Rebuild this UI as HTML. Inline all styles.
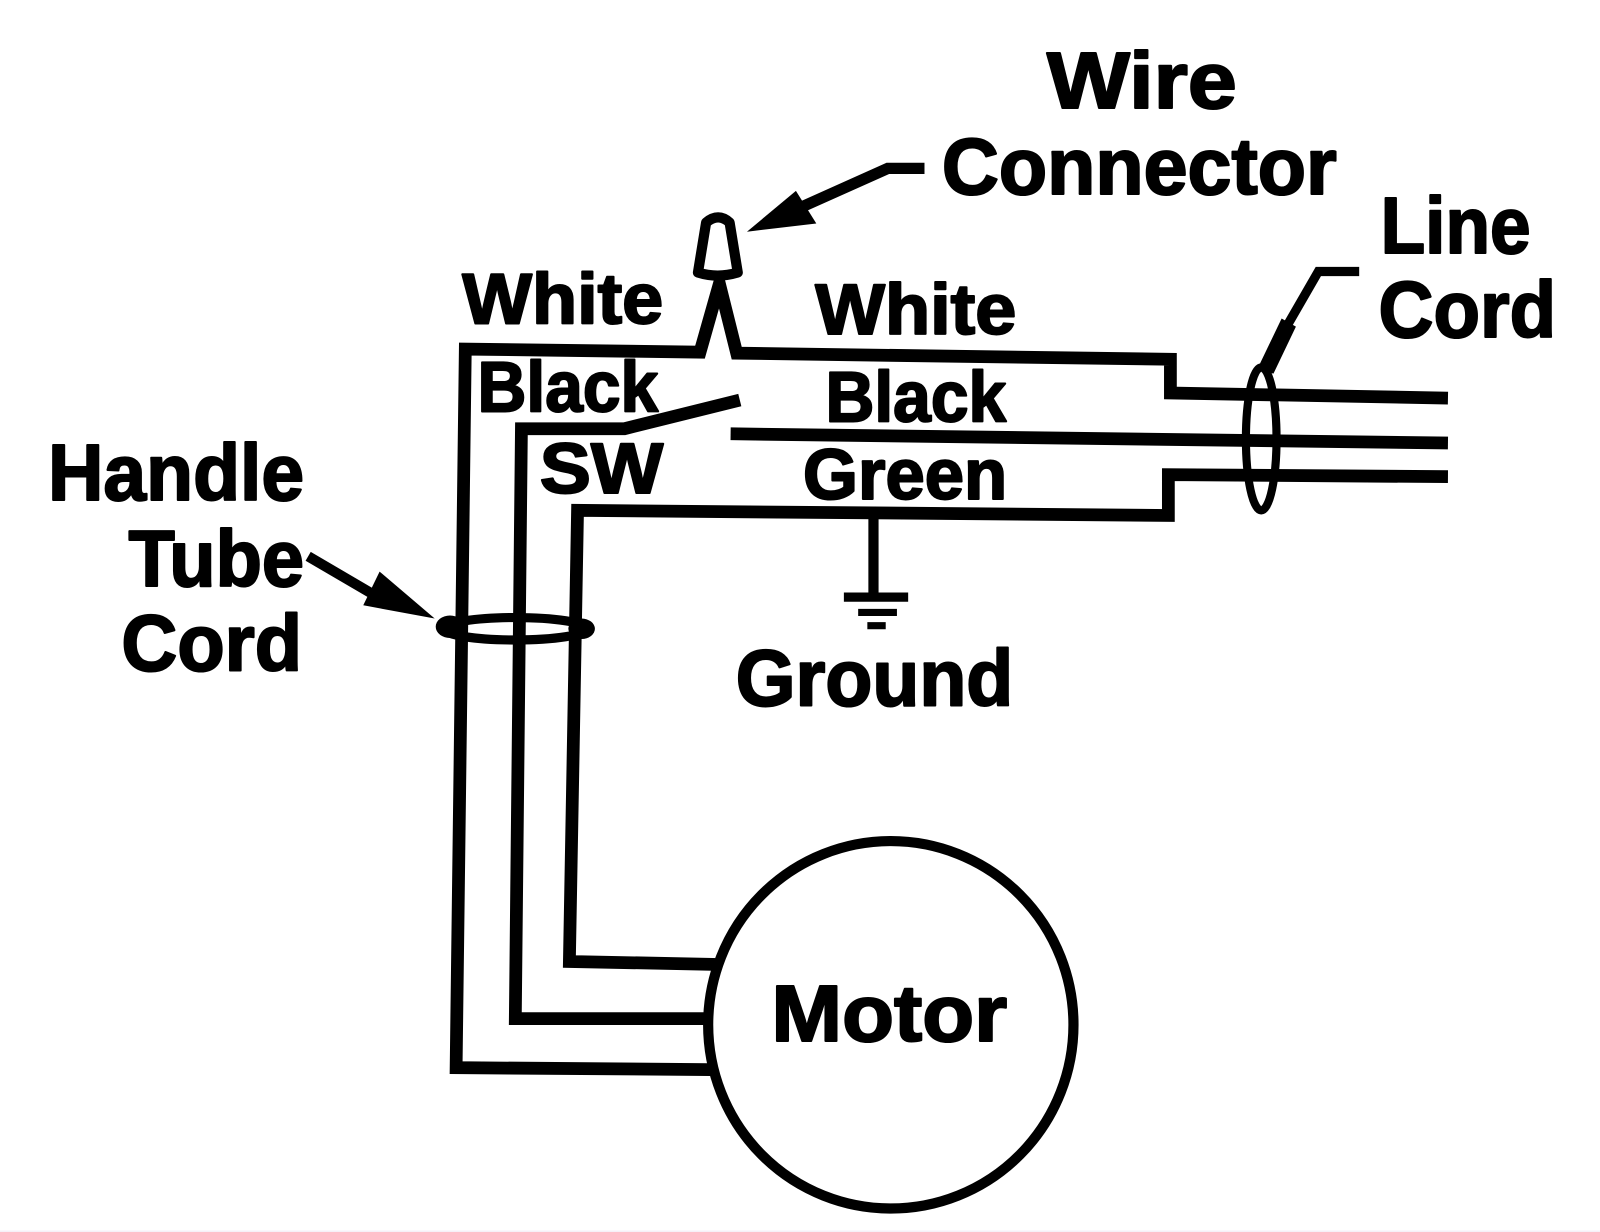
<!DOCTYPE html>
<html>
<head>
<meta charset="utf-8">
<style>
html,body{margin:0;padding:0;background:#fff;width:1600px;height:1232px;overflow:hidden}
svg{display:block}
text{font-family:"Liberation Sans",sans-serif;font-weight:bold;fill:#000;stroke:#000;stroke-width:2;stroke-linejoin:round}
.w{fill:none;stroke:#000;stroke-width:12.5;stroke-linejoin:miter;stroke-linecap:butt}
</style>
</head>
<body>
<svg width="1600" height="1232" viewBox="0 0 1568 1207" preserveAspectRatio="none" xmlns="http://www.w3.org/2000/svg">
<rect width="1568" height="1207" fill="#fff"/>
<rect y="1205.5" width="1568" height="1.5" fill="#f6f0f8"/>

<!-- wires -->
<polyline class="w" points="710,1048 447,1046 456,342 686,345 705,278 722,346 1147,352 1147,385 1419,390"/>
<polyline class="w" points="710,998 505,998 511,420 612,420 725,392"/>
<polyline class="w" points="716,425 1419,434"/>
<polyline class="w" points="710,945 558,942 566,500 1145,505 1145,465 1419,467"/>

<!-- ground -->
<line x1="856" y1="498" x2="856" y2="582" stroke="#000" stroke-width="10"/>
<line x1="827" y1="585" x2="890" y2="585" stroke="#000" stroke-width="9"/>
<line x1="841" y1="600" x2="879" y2="600" stroke="#000" stroke-width="7"/>
<line x1="850" y1="613" x2="868" y2="613" stroke="#000" stroke-width="7"/>

<!-- motor -->
<ellipse cx="873" cy="1004" rx="179" ry="180" fill="#fff" stroke="#000" stroke-width="10"/>

<!-- wire connector -->
<path d="M692,218 Q704,208 715,218 L723,267 Q703,273 684,267 Z" fill="#fff" stroke="#000" stroke-width="10" stroke-linejoin="round"/>

<!-- connector arrow -->
<polyline points="906,165 870,165 785,203" fill="none" stroke="#000" stroke-width="11"/>
<polygon points="732,227 780,187 800,219" fill="#000"/>

<!-- line cord -->
<ellipse cx="1236" cy="430" rx="15" ry="70" fill="none" stroke="#000" stroke-width="8"/>
<polyline points="1332,266 1292,266 1262,318" fill="none" stroke="#000" stroke-width="9"/>
<polygon points="1232,362 1256,312 1270,320 1248,366" fill="#000"/>

<!-- handle tube cord -->
<ellipse cx="505" cy="616" rx="70" ry="11" fill="none" stroke="#000" stroke-width="9"/>
<ellipse cx="441" cy="614" rx="14" ry="11" fill="#000"/>
<ellipse cx="570" cy="616" rx="13" ry="10" fill="#000"/>

<!-- handle arrow -->
<line x1="302" y1="545" x2="372" y2="586" stroke="#000" stroke-width="10"/>
<polygon points="426,606 372,560 356,593" fill="#000"/>

<!-- labels -->
<text x="1026" y="106" font-size="78" textLength="186" lengthAdjust="spacingAndGlyphs">Wire</text>
<text x="923" y="190" font-size="78" textLength="387" lengthAdjust="spacingAndGlyphs">Connector</text>
<text x="1353" y="248" font-size="78" textLength="147" lengthAdjust="spacingAndGlyphs">Line</text>
<text x="1351" y="330" font-size="78" textLength="174" lengthAdjust="spacingAndGlyphs">Cord</text>
<text x="453" y="317" font-size="70" textLength="197" lengthAdjust="spacingAndGlyphs">White</text>
<text x="799" y="327" font-size="70" textLength="197" lengthAdjust="spacingAndGlyphs">White</text>
<text x="468" y="403" font-size="70" textLength="177" lengthAdjust="spacingAndGlyphs">Black</text>
<text x="809" y="413" font-size="70" textLength="177" lengthAdjust="spacingAndGlyphs">Black</text>
<text x="529" y="483" font-size="70" textLength="121" lengthAdjust="spacingAndGlyphs">SW</text>
<text x="787" y="489" font-size="70" textLength="200" lengthAdjust="spacingAndGlyphs">Green</text>
<text x="47" y="490" font-size="78" textLength="251" lengthAdjust="spacingAndGlyphs">Handle</text>
<text x="126" y="574" font-size="78" textLength="172" lengthAdjust="spacingAndGlyphs">Tube</text>
<text x="119" y="657" font-size="78" textLength="177" lengthAdjust="spacingAndGlyphs">Cord</text>
<text x="721" y="691" font-size="78" textLength="272" lengthAdjust="spacingAndGlyphs">Ground</text>
<text x="756" y="1020" font-size="78" textLength="231" lengthAdjust="spacingAndGlyphs">Motor</text>
</svg>
</body>
</html>
